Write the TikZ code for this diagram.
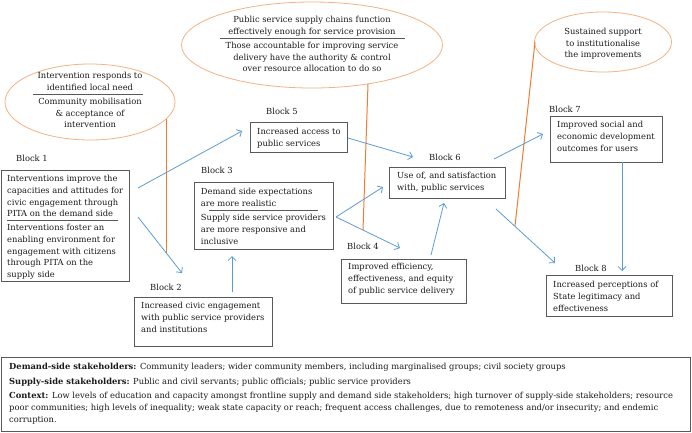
\documentclass[tikz,border=0pt]{standalone}
\usepackage{fontspec}
\setmainfont{DejaVu Serif}
\usetikzlibrary{arrows.meta,shapes.geometric}
\definecolor{bx}{HTML}{595959}
\definecolor{tx}{HTML}{1A1A1A}
\definecolor{ar}{HTML}{5B9BD5}
\definecolor{ol}{HTML}{ED7D31}
\definecolor{el}{HTML}{F4B183}
\begin{document}
\begin{tikzpicture}[x=1pt,y=-1pt,
 box/.style={draw=bx,line width=0.9pt,anchor=north west,inner sep=0pt},
 txt/.style={anchor=north west,inner sep=0pt,align=left,text=tx,font=\fontsize{8.35}{11.7}\selectfont},
 lbl/.style={anchor=base west,inner sep=0pt,text=tx,font=\fontsize{8.35}{12}\selectfont},
 ell/.style={ellipse,draw=el,line width=0.8pt,inner sep=0pt},
 etxt/.style={anchor=north,inner sep=0pt,align=center,text=tx,font=\fontsize{8.35}{11.5}\selectfont},
 btxt/.style={anchor=base west,inner sep=0pt,text=tx,font=\fontsize{8.35}{12}\selectfont},
 arr/.style={draw=ar,line width=0.8pt,-{Straight Barb[length=4pt,width=8pt]}},
 oline/.style={draw=ol,line width=1pt},
 sepl/.style={draw=bx,line width=0.6pt}]
\useasboundingbox (0,0) rectangle (692,432);

% ellipses
\node[ell,minimum width=170pt,minimum height=76pt] (e1) at (90,102) {};
\node[etxt] (e1a) at (90,70.5) {\strut Intervention responds to\\identified local need};
\draw[sepl] (33,94) -- (143,94);
\node[etxt] (e1b) at (90,96.5) {\strut Community mobilisation\\\& acceptance of\\intervention};

\node[ell,minimum width=261pt,minimum height=86pt] (e2) at (312,45) {};
\node[etxt] (e2a) at (312,14.5) {\strut Public service supply chains function\\effectively enough for service provision};
\draw[sepl] (220,38) -- (405,38);
\node[etxt] (e2b) at (312,40.5) {\strut Those accountable for improving service\\delivery have the authority \& control\\over resource allocation to do so};

\node[ell,minimum width=137pt,minimum height=60pt] (e3) at (603,42) {};
\node[etxt] (e3a) at (603,26.5) {\strut Sustained support\\to institutionalise\\the improvements};

% orange lines
\coordinate (o1s) at (166,119); \coordinate (o1e) at (166,253);
\coordinate (o2s) at (368,84);  \coordinate (o2e) at (363,230);
\coordinate (o3s) at (535,42);  \coordinate (o3e) at (515,226);
\draw[oline] (o1s) -- (o1e);
\draw[oline] (o2s) -- (o2e);
\draw[oline] (o3s) -- (o3e);

% Block 1
\node[lbl] (l1) at (16,161.5) {Block 1};
\node[box,minimum width=128.5pt,minimum height=111pt] (b1) at (0.5,170) {};
\node[txt] (b1a) at (7,173.5) {\strut Interventions improve the\\capacities and attitudes for\\civic engagement through\\PITA on the demand side};
\draw[sepl] (7,220) -- (118,220);
\node[txt] (b1b) at (7,222.5) {\strut Interventions foster an\\enabling environment for\\engagement with citizens\\through PITA on the\\supply side};

% Block 2
\node[lbl] (l2) at (150,290.5) {Block 2};
\node[box,minimum width=138pt,minimum height=49pt] (b2) at (134,297) {};
\node[txt] (b2a) at (141,300.5) {\strut Increased civic engagement\\with public service providers\\and institutions};

% Block 3
\node[lbl] (l3) at (201,173.5) {Block 3};
\node[box,minimum width=139pt,minimum height=67pt] (b3) at (194,182) {};
\node[txt] (b3a) at (200.7,186.5) {\strut Demand side expectations\\are more realistic};
\draw[sepl] (209,210) -- (318,210);
\node[txt] (b3b) at (200.7,212.5) {\strut Supply side service providers\\are more responsive and\\inclusive};

% Block 5
\node[lbl] (l5) at (266,114.5) {Block 5};
\node[box,minimum width=97pt,minimum height=30pt] (b5) at (250,122) {};
\node[txt] (b5a) at (257,126.5) {\strut Increased access to\\public services};

% Block 6
\node[lbl] (l6) at (429,160.5) {Block 6};
\node[box,minimum width=116pt,minimum height=31pt] (b6) at (389,167) {};
\node[txt] (b6a) at (397,170.5) {\strut Use of, and satisfaction\\with, public services};

% Block 4
\node[lbl] (l4) at (347,249.5) {Block 4};
\node[box,minimum width=125pt,minimum height=44pt] (b4) at (341,259) {};
\node[txt] (b4a) at (348,261.5) {\strut Improved efficiency,\\effectiveness, and equity\\of public service delivery};

% Block 7
\node[lbl] (l7) at (549,112.5) {Block 7};
\node[box,minimum width=112pt,minimum height=46pt] (b7) at (550,116) {};
\node[txt] (b7a) at (557,119.5) {\strut Improved social and\\economic development\\outcomes for users};

% Block 8
\node[lbl] (l8) at (575,271.5) {Block 8};
\node[box,minimum width=126pt,minimum height=41pt] (b8) at (546,275) {};
\node[txt] (b8a) at (553,279.5) {\strut Increased perceptions of\\State legitimacy and\\effectiveness};

% arrows
\coordinate (a1s) at (138,188); \coordinate (a1e) at (242,131);
\coordinate (a2s) at (138,217); \coordinate (a2e) at (182,273);
\coordinate (a3s) at (232,292); \coordinate (a3e) at (232,256);
\coordinate (a4s) at (348,138); \coordinate (a4e) at (413,157);
\coordinate (a5s) at (336,217); \coordinate (a5e) at (383,187);
\coordinate (a6e) at (400,248);
\coordinate (a7s) at (431,255); \coordinate (a7e) at (444,203);
\coordinate (a8s) at (494,159); \coordinate (a8e) at (543,134);
\coordinate (a9s) at (496,209); \coordinate (a9e) at (555,263);
\coordinate (a10s) at (622,162); \coordinate (a10e) at (622,271);
\draw[arr] (a1s) -- (a1e);
\draw[arr] (a2s) -- (a2e);
\draw[arr] (a3s) -- (a3e);
\draw[arr] (a4s) -- (a4e);
\draw[arr] (a5s) -- (a5e);
\draw[arr] (a5s) -- (a6e);
\draw[arr] (a7s) -- (a7e);
\draw[arr] (a8s) -- (a8e);
\draw[arr] (a9s) -- (a9e);
\draw[arr] (a10s) -- (a10e);

% bottom box
\node[box,minimum width=689.5pt,minimum height=74pt] (bb) at (0.5,357) {};
\node[btxt] (t1) at (9,369) {\textbf{Demand-side stakeholders:} Community leaders; wider community members, including marginalised groups; civil society groups};
\node[btxt] (t2) at (9,384) {\textbf{Supply-side stakeholders:} Public and civil servants; public officials; public service providers};
\node[btxt] (t3) at (9,398) {\textbf{Context:} Low levels of education and capacity amongst frontline supply and demand side stakeholders; high turnover of supply-side stakeholders; resource};
\node[btxt] (t4) at (9,410) {poor communities; high levels of inequality; weak state capacity or reach; frequent access challenges, due to remoteness and/or insecurity; and endemic};
\node[btxt] (t5) at (9,422) {corruption.};
\end{tikzpicture}
\end{document}
